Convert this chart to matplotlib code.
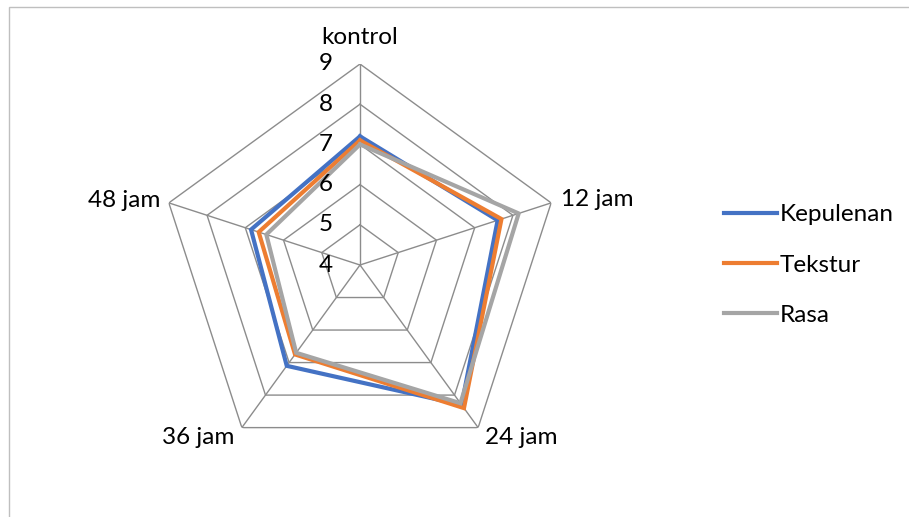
import numpy as np
import matplotlib.pyplot as plt
from matplotlib.patches import Rectangle

# categories around the radar, clockwise from the top
categories = ["kontrol", "12 jam", "24 jam", "36 jam", "48 jam"]

# scores
kepulenan = [7.2, 7.6, 8.3, 7.1, 6.85]
tekstur = [7.1, 7.7, 8.4, 6.75, 6.65]
rasa = [7.0, 8.15, 8.25, 6.7, 6.45]

series_names = ["Kepulenan", "Tekstur", "Rasa"]
series_colors = ["#4472C4", "#ED7D31", "#A5A5A5"]
levels = [4, 5, 6, 7, 8, 9]

plt.rcParams['font.family'] = ['Lato', 'DejaVu Sans']
FS = 17.5

W, H = 909, 517
fig = plt.figure(figsize=(W / 100, H / 100), dpi=100)

# outer chart frame (cut off at right and bottom like the reference)
fig.patches.append(Rectangle((9 / W, -0.05), 1.2, 1 - 7 / H + 0.05,
                             transform=fig.transFigure, fill=False,
                             edgecolor="#BFBFBF", lw=1))

cx, cy, rad = 360, 265, 201
ax = fig.add_axes([(cx - rad) / W, (H - cy - rad) / H, 2 * rad / W, 2 * rad / H],
                  projection="polar")
ax.set_theta_offset(np.pi / 2)
ax.set_theta_direction(-1)
ax.set_ylim(4, 9)
ax.grid(False)
ax.spines["polar"].set_visible(False)
ax.set_xticks([])
ax.set_yticks([])
ax.patch.set_alpha(0)

n = len(categories)
theta = np.linspace(0, 2 * np.pi, n, endpoint=False)
theta_closed = np.append(theta, theta[0])

# polygon grid and spokes
for lv in levels:
    ax.plot(theta_closed, [lv] * (n + 1), color="#8C8C8C", lw=1, zorder=1)
for t in theta:
    ax.plot([t, t], [4, 9], color="#8C8C8C", lw=1, zorder=1)

handles = []
for vals, name, col in zip([kepulenan, tekstur, rasa], series_names, series_colors):
    v = np.append(vals, vals[0])
    h, = ax.plot(theta_closed, v, color=col, lw=3, label=name, zorder=3,
                 solid_joinstyle="miter")
    handles.append(h)

# value labels along the top spoke (offset in points, ~34px left)
for lv in levels:
    ax.annotate(str(lv), xy=(0, lv), xytext=(-24.5, 0), textcoords="offset points",
                ha="center", va="center", fontsize=FS, annotation_clip=False)

# category labels
ax.text(0, 9.67, categories[0], ha="center", va="center", fontsize=FS)
ax.text(theta[1], 9.27, categories[1], ha="left", va="center", fontsize=FS)
ax.text(theta[2], 9.3, categories[2], ha="left", va="center", fontsize=FS)
ax.text(theta[3], 9.3, categories[3], ha="right", va="center", fontsize=FS)
ax.text(theta[4], 9.23, categories[4], ha="right", va="center", fontsize=FS)

fig.legend(handles=handles, loc="center left", bbox_to_anchor=(702 / W, 1 - 265 / H),
           frameon=False, fontsize=FS, handlelength=2.2, handletextpad=0.1,
           labelspacing=1.2)

fig.savefig("out.png", dpi=100)
